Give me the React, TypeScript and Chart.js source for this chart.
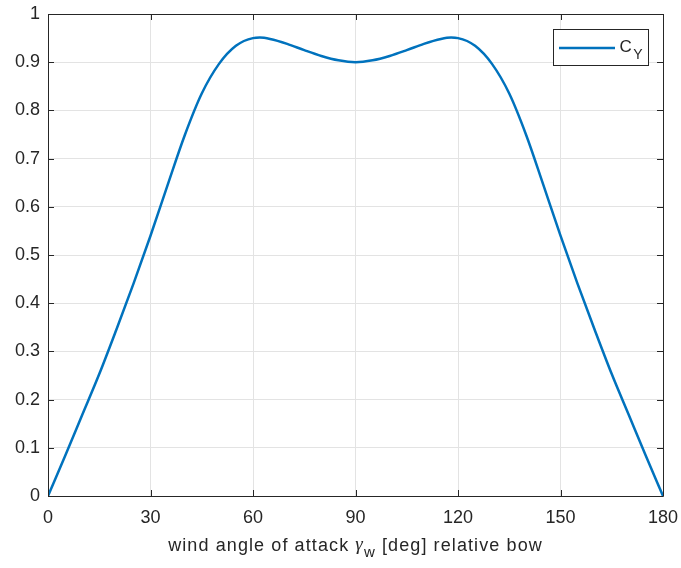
import React, { useEffect, useRef } from "react";
import { Chart, registerables } from "chart.js";

Chart.register(...registerables);

const angles = [0, 5, 10, 15, 20, 25, 30, 35, 40, 45, 50, 55, 60, 62, 65, 70, 75, 80, 85, 90, 95, 100, 105, 110, 115, 118, 120, 125, 130, 135, 140, 145, 150, 155, 160, 165, 170, 175, 180];
const cy = [0, 0.083, 0.168, 0.253, 0.345, 0.44, 0.54, 0.645, 0.748, 0.835, 0.896, 0.934, 0.95, 0.951, 0.948, 0.938, 0.925, 0.913, 0.904, 0.9, 0.904, 0.913, 0.925, 0.938, 0.948, 0.951, 0.95, 0.934, 0.896, 0.835, 0.748, 0.645, 0.54, 0.44, 0.345, 0.253, 0.168, 0.083, 0];
const xTicks = [0, 30, 60, 90, 120, 150, 180];
const yTicks = [0, 0.1, 0.2, 0.3, 0.4, 0.5, 0.6, 0.7, 0.8, 0.9, 1];
const seriesName = "C";
const seriesSub = "Y";
const titleParts = ["wind angle of attack ", "γ", "w", " [deg] relative bow"];

const AX = "#262626";
const BLUE = "#0072BD";
const FONT = "'Liberation Sans', Arial, Helvetica, sans-serif";

const decor = {
  id: "decor",
  afterDatasetsDraw(chart: any) {
    const { ctx, chartArea: a, scales } = chart;
    const xs = scales.x, ys = scales.y;
    ctx.save();
    ctx.strokeStyle = AX;
    ctx.lineWidth = 1;
    ctx.beginPath();
    ctx.rect(Math.round(a.left) + 0.5, Math.round(a.top) + 0.5, Math.round(a.right) - Math.round(a.left), Math.round(a.bottom) - Math.round(a.top));
    ctx.stroke();
    const tl = 6;
    ctx.beginPath();
    for (const t of xTicks) {
      const px = Math.round(xs.getPixelForValue(t)) + 0.5;
      ctx.moveTo(px, a.bottom); ctx.lineTo(px, a.bottom - tl);
      ctx.moveTo(px, a.top); ctx.lineTo(px, a.top + tl);
    }
    for (const t of yTicks) {
      const py = Math.round(ys.getPixelForValue(t)) + 0.5;
      ctx.moveTo(a.left, py); ctx.lineTo(a.left + tl, py);
      ctx.moveTo(a.right, py); ctx.lineTo(a.right - tl, py);
    }
    ctx.stroke();

    // legend
    const lx = 553.5, ly = 29.5, lw = 95, lh = 36;
    ctx.fillStyle = "#fff";
    ctx.fillRect(lx, ly, lw, lh);
    ctx.strokeStyle = AX;
    ctx.strokeRect(lx, ly, lw, lh);
    ctx.strokeStyle = BLUE;
    ctx.lineWidth = 2.5;
    ctx.beginPath();
    ctx.moveTo(559, 48); ctx.lineTo(615, 48);
    ctx.stroke();
    ctx.fillStyle = AX;
    ctx.textBaseline = "alphabetic";
    ctx.textAlign = "left";
    ctx.font = `17px ${FONT}`;
    ctx.fillText(seriesName, 619.5, 52);
    const cw = ctx.measureText(seriesName).width;
    ctx.font = `14px ${FONT}`;
    ctx.fillText(seriesSub, 619.5 + cw + 1.5, 58.5);

    // x title
    (ctx as any).letterSpacing = "1.1px";
    const fMain = `18px ${FONT}`;
    const fGam = `italic 19px 'Liberation Serif', 'DejaVu Serif', serif`;
    const fSub = `15px ${FONT}`;
    ctx.font = fMain; const w0 = ctx.measureText(titleParts[0]).width; const w3 = ctx.measureText(titleParts[3]).width;
    ctx.font = fGam; const w1 = ctx.measureText(titleParts[1]).width;
    ctx.font = fSub; const w2 = ctx.measureText(titleParts[2]).width;
    const total = w0 + w1 + w2 + w3;
    let x = (a.left + a.right) / 2 - total / 2;
    const base = 551;
    ctx.font = fMain; ctx.fillText(titleParts[0], x, base); x += w0;
    ctx.font = fGam; ctx.fillText(titleParts[1], x, base - 1); x += w1;
    ctx.font = fSub; ctx.fillText(titleParts[2], x, base + 6); x += w2;
    ctx.font = fMain; ctx.fillText(titleParts[3], x, base);
    ctx.restore();
  },
};

export default function App() {
  const ref = useRef<HTMLCanvasElement>(null);
  useEffect(() => {
    const chart = new Chart(ref.current!, {
      type: "line",
      data: {
        datasets: [
          {
            label: seriesName + seriesSub,
            data: angles.map((a, i) => ({ x: a, y: cy[i] })),
            borderColor: BLUE,
            borderWidth: 2.5,
            pointRadius: 0,
            cubicInterpolationMode: "monotone",
            fill: false,
          },
        ],
      },
      options: {
        animation: false,
        responsive: false,
        maintainAspectRatio: false,
        layout: { padding: { left: 0, top: 14, right: 18, bottom: 0 } },
        plugins: { legend: { display: false }, tooltip: { enabled: false } },
        scales: {
          x: {
            type: "linear",
            min: 0,
            max: 180,
            afterBuildTicks: (s: any) => { s.ticks = xTicks.map((v) => ({ value: v })); },
            afterFit: (s: any) => { s.height = 72; s.paddingLeft = 0; s.paddingRight = 0; },
            grid: { color: "#e3e3e3", drawTicks: false },
            border: { display: false },
            ticks: { color: AX, font: { family: FONT, size: 18 }, padding: 11, maxRotation: 0, autoSkip: false },
          },
          y: {
            type: "linear",
            min: 0,
            max: 1,
            afterBuildTicks: (s: any) => { s.ticks = yTicks.map((v) => ({ value: v })); },
            afterFit: (s: any) => { s.width = 48; s.paddingTop = 0; s.paddingBottom = 0; },
            grid: { color: "#e3e3e3", drawTicks: false },
            border: { display: false },
            ticks: {
              color: AX,
              font: { family: FONT, size: 18 },
              padding: 8,
              autoSkip: false,
              callback: (v: any) => String(Number(Number(v).toFixed(1))),
            },
          },
        },
      },
      plugins: [decor],
    });
    return () => chart.destroy();
  }, []);
  return (
    <div style={{ position: "fixed", left: 0, top: 0, width: 681, height: 568, background: "#fff" }}>
      <canvas ref={ref} width={681} height={568} style={{ width: 681, height: 568 }} />
    </div>
  );
}
